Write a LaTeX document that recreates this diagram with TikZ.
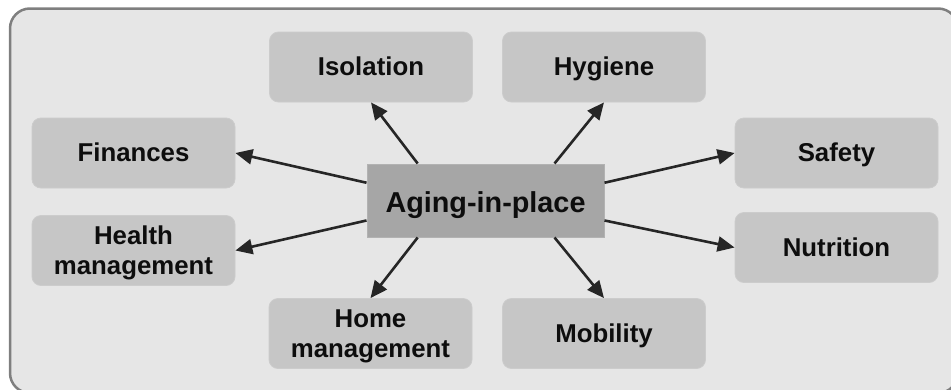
\documentclass[tikz,border=0pt]{standalone}
\usepackage{fontspec}
\setmainfont{Liberation Sans}
\usetikzlibrary{arrows.meta,calc}
\definecolor{panelfill}{HTML}{E6E6E6}
\definecolor{panelline}{HTML}{7F7F7F}
\definecolor{topicfill}{HTML}{C6C6C6}
\definecolor{hubfill}{HTML}{A6A6A6}
\definecolor{hubline}{HTML}{B2B2B2}
\definecolor{arrowcol}{HTML}{262626}
\definecolor{textcol}{HTML}{0D0D0D}
\tikzset{
  topic/.style={fill=topicfill, draw=topicfill!90!white, line width=0.8pt,
    rounded corners=9pt, minimum width=203pt, minimum height=70pt,
    align=center, text=textcol, inner sep=0pt, text depth=0pt,
    font=\fontsize{25.8}{30}\selectfont\bfseries},
  oneline/.style={text height=17.6pt},
  hub/.style={fill=hubfill, draw=hubline, line width=1pt,
    minimum width=237pt, minimum height=73pt, text=textcol, inner sep=0pt,
    text height=23pt, text depth=0pt,
    font=\fontsize{28.8}{34}\selectfont\bfseries},
  link/.style={draw=arrowcol, line width=2.6pt,
    -{Triangle[length=17pt,width=15pt]}}
}
\begin{document}
\begin{tikzpicture}[x=1pt,y=-1pt]
\useasboundingbox (0,0) rectangle (951,389);
\clip (0,0) rectangle (951,389);
% background panel
\draw[fill=panelfill, draw=panelline, line width=2.5pt, rounded corners=20pt]
  (10,8.5) rectangle (958,393);
% central topic
\node[hub] (c) at (485.5,200.5) {Aging-in-place};
% surrounding topics
\node[topic,oneline] (fin) at (133.5,153) {Finances};
\node[topic] (hea) at (133.5,250.5) {Health\\management};
\node[topic,oneline] (iso) at (371,67) {Isolation};
\node[topic,oneline] (hyg) at (604,67) {Hygiene};
\node[topic,oneline] (saf) at (836.5,153) {Safety};
\node[topic,oneline] (nut) at (836.5,247.5) {Nutrition};
\node[topic] (hom) at (370.5,333.5) {Home\\management};
\node[topic,oneline] (mob) at (604,333.5) {Mobility};
% connectors
\draw[link] ($(c.north west)!0.26!(c.south west)$) -- (fin.east);
\draw[link] ($(c.north west)!0.77!(c.south west)$) -- (hea.east);
\draw[link] ($(c.north west)!0.215!(c.north east)$) -- (iso.south);
\draw[link] ($(c.north west)!0.79!(c.north east)$) -- (hyg.south);
\draw[link] ($(c.north east)!0.26!(c.south east)$) -- (saf.west);
\draw[link] ($(c.north east)!0.77!(c.south east)$) -- (nut.west);
\draw[link] ($(c.south west)!0.215!(c.south east)$) -- (hom.north);
\draw[link] ($(c.south west)!0.79!(c.south east)$) -- (mob.north);
\end{tikzpicture}
\end{document}
